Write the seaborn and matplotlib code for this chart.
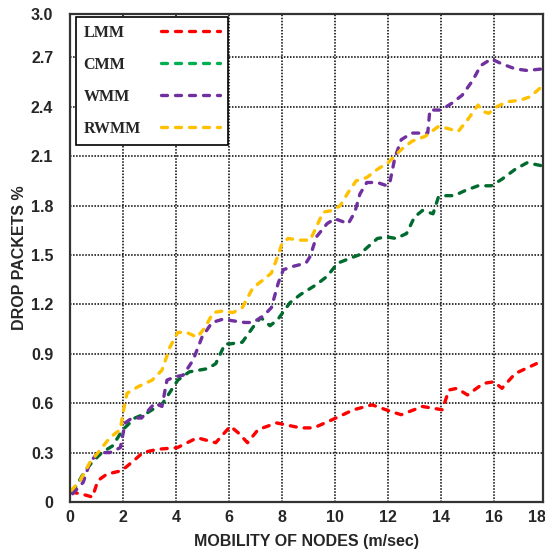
import pandas as pd
import matplotlib
matplotlib.use("Agg")
import matplotlib.pyplot as plt
from matplotlib.lines import Line2D
from matplotlib.transforms import offset_copy
import seaborn as sns

# データ
series_names = ["LMM", "CMM", "WMM", "RWMM"]

lmm_x = [0.05, 0.4, 0.85, 1.05, 1.4, 1.95, 2.4, 2.75, 3.3, 4.05, 4.8, 5.5, 6.05, 6.35, 6.7, 7.1, 7.8,
         8.7, 9.2, 9.9, 10.7, 11.4, 12.1, 12.5, 13.3, 14.05, 14.3, 14.6, 15.0, 15.6, 16.0, 16.3, 16.8, 17.6]
lmm_y = [0.06, 0.05, 0.03, 0.13, 0.17, 0.19, 0.25, 0.30, 0.32, 0.33, 0.39, 0.36, 0.46, 0.42, 0.36, 0.44, 0.48,
         0.45, 0.45, 0.50, 0.56, 0.59, 0.55, 0.53, 0.58, 0.56, 0.68, 0.69, 0.65, 0.72, 0.73, 0.69, 0.78, 0.84]

cmm_x = [0.1, 0.57, 0.83, 1.2, 1.6, 2.0, 2.45, 2.9, 3.5, 4.07, 4.5, 5.2, 5.5, 5.85, 6.04, 6.5, 6.9, 7.2,
         7.55, 7.85, 8.3, 8.7, 9.3, 9.7, 10.1, 10.57, 10.9, 11.25, 11.6, 11.95, 12.3, 12.7, 13.0, 13.3,
         13.7, 13.9, 14.07, 14.5, 14.9, 15.4, 15.9, 16.3, 16.8, 17.25, 17.85]
cmm_y = [0.06, 0.19, 0.24, 0.30, 0.34, 0.44, 0.51, 0.54, 0.60, 0.74, 0.79, 0.81, 0.84, 0.96, 0.96, 0.97, 1.06, 1.12,
         1.07, 1.11, 1.21, 1.26, 1.32, 1.37, 1.45, 1.48, 1.50, 1.55, 1.60, 1.61, 1.60, 1.63, 1.73, 1.77,
         1.75, 1.85, 1.86, 1.86, 1.89, 1.92, 1.92, 1.96, 2.02, 2.06, 2.04]

wmm_x = [0.1, 0.5, 0.75, 1.06, 1.5, 1.9, 2.08, 2.34, 2.7, 3.2, 3.47, 3.66, 3.96, 4.27, 4.64, 4.98, 5.36, 5.77,
         6.15, 6.6, 6.9, 7.3, 7.6, 7.86, 8.05, 8.4, 8.9, 9.06, 9.3, 9.7, 10.0, 10.5, 10.75, 10.94, 11.2, 11.6,
         11.96, 12.07, 12.26, 12.5, 12.9, 13.5, 13.58, 14.0, 14.4, 14.8, 15.2, 15.5, 15.9, 16.3, 16.8, 17.25, 17.85]
wmm_y = [0.05, 0.12, 0.24, 0.30, 0.30, 0.33, 0.48, 0.51, 0.51, 0.60, 0.58, 0.74, 0.76, 0.77, 0.86, 1.00, 1.09, 1.11,
         1.10, 1.09, 1.09, 1.13, 1.18, 1.33, 1.41, 1.43, 1.45, 1.49, 1.61, 1.69, 1.72, 1.69, 1.76, 1.87, 1.94, 1.94,
         1.92, 1.94, 2.09, 2.20, 2.24, 2.24, 2.38, 2.38, 2.42, 2.47, 2.56, 2.65, 2.69, 2.66, 2.63, 2.62, 2.63]

rwmm_x = [0.05, 0.38, 0.75, 1.06, 1.5, 1.9, 2.0, 2.15, 2.57, 3.1, 3.47, 3.77, 4.07, 4.4, 4.8, 5.1, 5.4, 5.77,
          6.15, 6.5, 6.9, 7.3, 7.6, 7.86, 8.0, 8.23, 8.7, 9.06, 9.3, 9.55, 9.9, 10.2, 10.5, 10.8, 11.2, 11.6,
          12.0, 12.5, 12.9, 13.4, 13.9, 14.2, 14.65, 15.0, 15.4, 15.6, 15.8, 16.1, 16.5, 17.0, 17.35, 17.65, 17.85]
rwmm_y = [0.07, 0.13, 0.24, 0.30, 0.39, 0.44, 0.54, 0.66, 0.70, 0.74, 0.80, 0.94, 1.03, 1.03, 1.00, 1.06, 1.15, 1.16,
          1.15, 1.18, 1.30, 1.35, 1.39, 1.50, 1.57, 1.60, 1.59, 1.59, 1.67, 1.76, 1.77, 1.80, 1.88, 1.95, 1.97, 2.02,
          2.06, 2.14, 2.19, 2.22, 2.28, 2.27, 2.25, 2.32, 2.41, 2.37, 2.36, 2.40, 2.43, 2.44, 2.46, 2.50, 2.53]

x_ticks = [0, 2, 4, 6, 8, 10, 12, 14, 16]
y_ticks = [0, 0.3, 0.6, 0.9, 1.2, 1.5, 1.8, 2.1, 2.4, 2.7]
y_tick_labels = ["0", "0.3", "0.6", "0.9", "1.2", "1.5", "1.8", "2.1", "2.4", "2.7"]

line_colors = {"LMM": "#ff0000", "CMM": "#006b2e", "WMM": "#7030a0", "RWMM": "#ffc000"}
legend_colors = {"LMM": "#ff0000", "CMM": "#00b050", "WMM": "#7030a0", "RWMM": "#ffc000"}

df = pd.concat([
    pd.DataFrame({"speed": lmm_x, "drop": lmm_y, "model": "LMM"}),
    pd.DataFrame({"speed": cmm_x, "drop": cmm_y, "model": "CMM"}),
    pd.DataFrame({"speed": wmm_x, "drop": wmm_y, "model": "WMM"}),
    pd.DataFrame({"speed": rwmm_x, "drop": rwmm_y, "model": "RWMM"}),
], ignore_index=True)

sns.set_theme(style="white")
plt.rcParams['font.family'] = ['Liberation Sans', 'DejaVu Sans']

fig = plt.figure(figsize=(5.45, 5.51), dpi=100)
ax = fig.add_axes([70 / 545, 1 - 502 / 551, 473 / 545, 488 / 551])

DASH = (1.8, 2.4)
sns.lineplot(data=df, x="speed", y="drop", hue="model", hue_order=series_names,
             palette=line_colors, estimator=None, sort=False, legend=False, ax=ax, lw=2.4)
for ln in ax.lines:
    ln.set_dashes(DASH)
    ln.set_dash_capstyle("round")

x_max = 17.85
y_max = 2.963
ax.set_xlim(0, x_max)
ax.set_ylim(0, y_max)
ax.set_xticks(x_ticks)
ax.set_yticks(y_ticks + [y_max])
ax.set_yticklabels(y_tick_labels + ["3.0"])
ax.tick_params(axis="both", length=0, labelsize=11.5)
ax.tick_params(axis="y", pad=12)
ax.tick_params(axis="x", pad=6)
for t in ax.get_xticklabels() + ax.get_yticklabels():
    t.set_fontweight("bold")
# 18 のラベル（軸の右端）
ax.text(17.62, 0, "18", transform=offset_copy(ax.get_xaxis_transform(), fig=fig, y=-6, units="points"),
        ha="center", va="top", fontsize=11.5, fontweight="bold", clip_on=False)

ax.grid(True, color="black", linestyle=(0, (1, 1)), linewidth=1.1)
ax.set_axisbelow(True)
for s in ax.spines.values():
    s.set_color("#333333")
    s.set_linewidth(1.6)

ax.set_xlabel("MOBILITY OF NODES (m/sec)", fontsize=11.5, fontweight="bold", labelpad=6)
ax.set_ylabel("DROP PACKETS %", fontsize=11.5, fontweight="bold", labelpad=3)

handles = [Line2D([0], [0], color=legend_colors[n], lw=2.4, dashes=DASH, dash_capstyle="round")
           for n in series_names]
leg = ax.legend(handles, series_names, loc="upper left", bbox_to_anchor=(0.012, 0.994),
                borderaxespad=0, markerfirst=False, handlelength=3.7, labelspacing=1.0,
                borderpad=0.5, fancybox=False, framealpha=1, edgecolor="black",
                prop={"family": "Liberation Serif", "weight": "bold", "size": 11.5})
leg.get_frame().set_linewidth(1.2)
# テキストを左寄せ、線を右寄せにする
for col in leg._legend_handle_box.get_children():
    col.align = "left"
    for row in col.get_children():
        row.mode = "expand"
        row.width = 136

fig.savefig("out.png", dpi=100)
